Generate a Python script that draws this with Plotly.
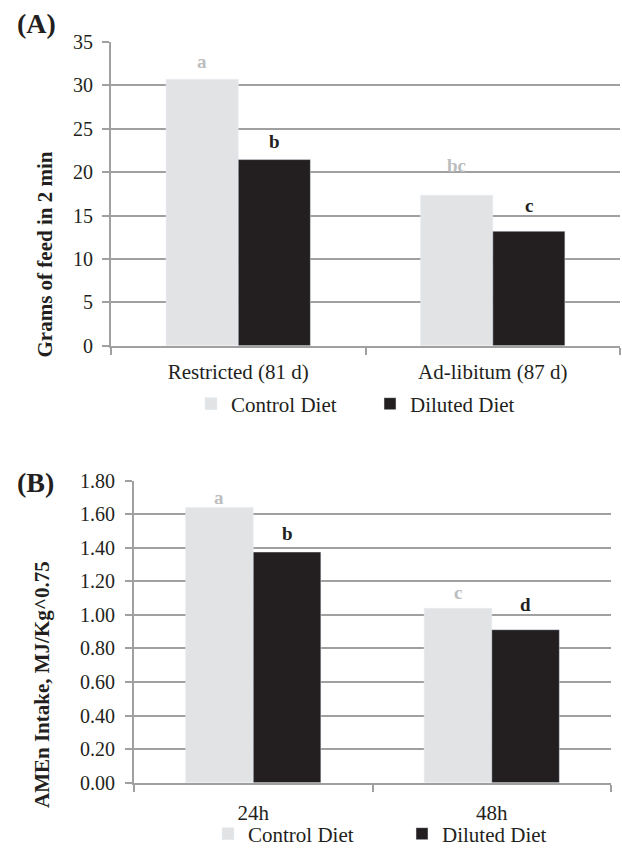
import plotly.graph_objects as go

# Panel A data
cats_a = ["Restricted (81 d)", "Ad-libitum (87 d)"]
control_a = [30.7, 17.35]
diluted_a = [21.45, 13.2]
letters_ctrl_a = ["a", "bc"]
letters_dil_a = ["b", "c"]
yticks_a = [0, 5, 10, 15, 20, 25, 30, 35]

# Panel B data
cats_b = ["24h", "48h"]
control_b = [1.64, 1.04]
diluted_b = [1.375, 0.912]
letters_ctrl_b = ["a", "c"]
letters_dil_b = ["b", "d"]
yticks_b = [0, 0.2, 0.4, 0.6, 0.8, 1.0, 1.2, 1.4, 1.6, 1.8]

# label lift above bar tops (px), style only
lift_ctrl_a = [5, 17]
lift_dil_a = [6, 13]
lift_ctrl_b = [-2, 3]
lift_dil_b = [6, 13]

CTRL = "#e2e3e5"
DIL = "#231f20"
LBL_CTRL = "#bcbdbf"
TXT = "#231f20"
GRID = "#a0a0a0"
FONT = "Liberation Serif"
W, H = 622, 848

BARGAP = 0.433
half = (1 - BARGAP) / 4  # centre offset of each bar within group


def px(x):
    return x / W


def py(y):
    return 1 - y / H


fig = go.Figure()
fig.add_trace(go.Bar(x=cats_a, y=control_a, name="Control Diet", marker_color=CTRL,
                     xaxis="x", yaxis="y", legend="legend"))
fig.add_trace(go.Bar(x=cats_a, y=diluted_a, name="Diluted Diet", marker_color=DIL,
                     xaxis="x", yaxis="y", legend="legend"))
fig.add_trace(go.Bar(x=cats_b, y=control_b, name="Control Diet", marker_color=CTRL,
                     xaxis="x2", yaxis="y2", legend="legend2"))
fig.add_trace(go.Bar(x=cats_b, y=diluted_b, name="Diluted Diet", marker_color=DIL,
                     xaxis="x2", yaxis="y2", legend="legend2"))

ann = []


def letters(xref, yref, vals, labs, lifts, offset, color):
    for i, (v, t, s) in enumerate(zip(vals, labs, lifts)):
        ann.append(dict(x=i + offset, y=v, xref=xref, yref=yref, text=t, showarrow=False,
                        xanchor="center", yanchor="bottom", yshift=s,
                        font=dict(family=FONT, size=19, color=color, weight="bold")))


letters("x", "y", control_a, letters_ctrl_a, lift_ctrl_a, -half, LBL_CTRL)
letters("x", "y", diluted_a, letters_dil_a, lift_dil_a, half, TXT)
letters("x2", "y2", control_b, letters_ctrl_b, lift_ctrl_b, -half, LBL_CTRL)
letters("x2", "y2", diluted_b, letters_dil_b, lift_dil_b, half, TXT)

# panel labels and y titles
common_txt = dict(xref="paper", yref="paper", showarrow=False, xanchor="center", yanchor="middle")
ann.append(dict(common_txt, x=px(36), y=py(24), text="<b>(A)</b>",
                font=dict(family=FONT, size=28, color=TXT)))
ann.append(dict(common_txt, x=px(35), y=py(482), text="<b>(B)</b>",
                font=dict(family=FONT, size=28, color=TXT)))
ann.append(dict(common_txt, x=px(44), y=py(254.5), text="<b>Grams of feed in 2 min</b>",
                textangle=-90, font=dict(family=FONT, size=21, color=TXT)))
ann.append(dict(common_txt, x=px(42), y=py(685), text="<b>AMEn Intake, MJ/Kg^0.75</b>",
                textangle=-90, font=dict(family=FONT, size=21, color=TXT)))

xcommon = dict(type="category", showline=True, linecolor=GRID, linewidth=2, automargin=False,
               ticks="outside", tickson="boundaries", ticklen=7, tickcolor=GRID, tickwidth=1.5,
               showgrid=False, tickfont=dict(family=FONT, size=21, color=TXT), fixedrange=True)
ycommon = dict(showline=True, linecolor=GRID, linewidth=2, ticks="outside", ticklen=7,
               automargin=False, fixedrange=True,
               tickcolor=GRID, tickwidth=1.5, showgrid=True, gridcolor=GRID, gridwidth=1.5,
               zeroline=False, tickfont=dict(family=FONT, size=20, color=TXT))

fig.update_layout(
    width=W, height=H, margin=dict(l=0, r=0, t=0, b=0, autoexpand=False),
    paper_bgcolor="white", plot_bgcolor="white",
    barmode="group", bargap=BARGAP, bargroupgap=0,
    xaxis=dict(xcommon, domain=[px(111), px(620)], anchor="y", ticklabelstandoff=6),
    yaxis=dict(ycommon, domain=[py(345.7), py(42)], anchor="x",
               range=[0, 35], tickvals=yticks_a, ticktext=[str(v) for v in yticks_a],
               ticklabelstandoff=5),
    xaxis2=dict(xcommon, domain=[px(134), px(611)], anchor="y2", ticklabelstandoff=10),
    yaxis2=dict(ycommon, domain=[py(782.7), py(480.7)], anchor="x2",
                range=[0, 1.8], tickvals=yticks_b, ticktext=[f"{v:.2f}" for v in yticks_b],
                ticklabelstandoff=6),
    legend=dict(orientation="h", x=px(191), y=py(404), xanchor="left", yanchor="middle",
                font=dict(family=FONT, size=21, color=TXT), entrywidth=134, entrywidthmode="pixels",
                bgcolor="rgba(0,0,0,0)"),
    legend2=dict(orientation="h", x=px(208), y=py(834), xanchor="left", yanchor="middle",
                 font=dict(family=FONT, size=21, color=TXT), entrywidth=149, entrywidthmode="pixels",
                 bgcolor="rgba(0,0,0,0)"),
    annotations=ann,
    showlegend=True,
    hovermode=False,
)

fig.write_html("out.html", config={"displayModeBar": False},
               post_script="document.body.style.margin='0';")
